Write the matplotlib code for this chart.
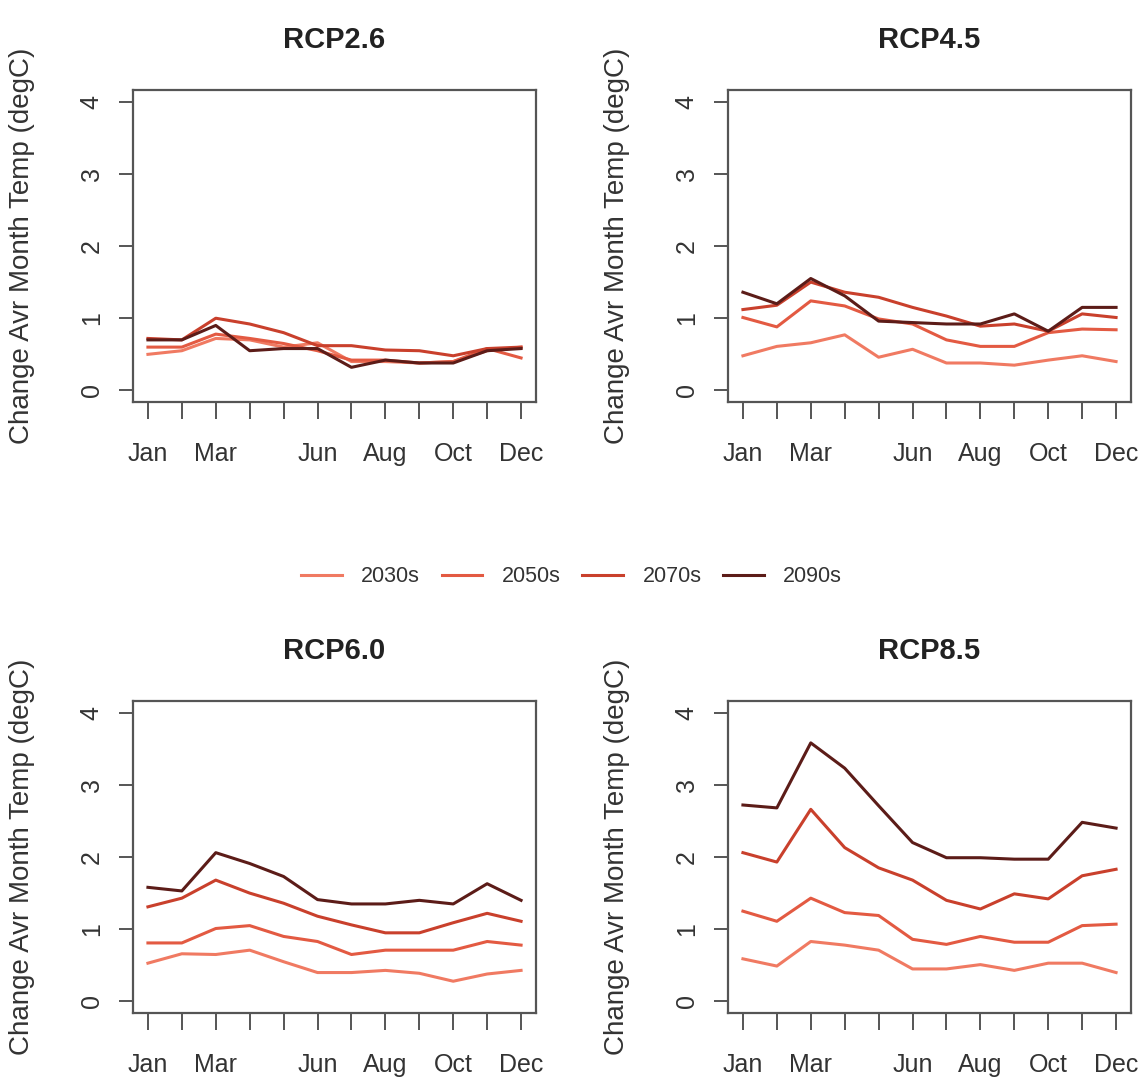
import numpy as np
import matplotlib
matplotlib.use("Agg")
import matplotlib.pyplot as plt

plt.rcParams['font.family'] = ['Liberation Sans', 'DejaVu Sans']

months = ['Jan', 'Feb', 'Mar', 'Apr', 'May', 'Jun',
          'Jul', 'Aug', 'Sep', 'Oct', 'Nov', 'Dec']
shown = ['Jan', 'Mar', 'Jun', 'Aug', 'Oct', 'Dec']
periods = ['2030s', '2050s', '2070s', '2090s']
colours = ['#f07a62', '#e35a42', '#c9402c', '#5c1c18']

# change in mean monthly temperature (degC), one list per period
rcp26_2030s = [0.50, 0.55, 0.72, 0.70, 0.60, 0.66, 0.40, 0.40, 0.38, 0.40, 0.55, 0.60]
rcp26_2050s = [0.60, 0.60, 0.78, 0.72, 0.65, 0.55, 0.42, 0.42, 0.38, 0.40, 0.58, 0.45]
rcp26_2070s = [0.72, 0.70, 1.00, 0.92, 0.80, 0.62, 0.62, 0.56, 0.55, 0.48, 0.58, 0.60]
rcp26_2090s = [0.70, 0.70, 0.90, 0.55, 0.58, 0.58, 0.32, 0.42, 0.38, 0.38, 0.55, 0.58]

rcp45_2030s = [0.48, 0.61, 0.66, 0.77, 0.46, 0.57, 0.38, 0.38, 0.35, 0.42, 0.48, 0.40]
rcp45_2050s = [1.01, 0.88, 1.24, 1.17, 0.99, 0.92, 0.70, 0.61, 0.61, 0.80, 0.85, 0.84]
rcp45_2070s = [1.12, 1.18, 1.50, 1.36, 1.29, 1.15, 1.03, 0.89, 0.92, 0.82, 1.06, 1.01]
rcp45_2090s = [1.36, 1.20, 1.55, 1.31, 0.96, 0.94, 0.92, 0.92, 1.06, 0.82, 1.15, 1.15]

rcp60_2030s = [0.53, 0.66, 0.65, 0.71, 0.55, 0.40, 0.40, 0.43, 0.39, 0.28, 0.38, 0.43]
rcp60_2050s = [0.81, 0.81, 1.01, 1.05, 0.90, 0.83, 0.65, 0.71, 0.71, 0.71, 0.83, 0.78]
rcp60_2070s = [1.31, 1.43, 1.68, 1.50, 1.36, 1.18, 1.06, 0.95, 0.95, 1.09, 1.22, 1.11]
rcp60_2090s = [1.58, 1.53, 2.06, 1.91, 1.73, 1.41, 1.35, 1.35, 1.40, 1.35, 1.63, 1.40]

rcp85_2030s = [0.59, 0.49, 0.83, 0.78, 0.71, 0.45, 0.45, 0.51, 0.43, 0.53, 0.53, 0.40]
rcp85_2050s = [1.25, 1.11, 1.43, 1.23, 1.19, 0.86, 0.79, 0.90, 0.82, 0.82, 1.05, 1.07]
rcp85_2070s = [2.06, 1.93, 2.66, 2.13, 1.85, 1.68, 1.40, 1.28, 1.49, 1.42, 1.74, 1.83]
rcp85_2090s = [2.72, 2.68, 3.58, 3.23, 2.71, 2.20, 1.99, 1.99, 1.97, 1.97, 2.48, 2.40]

panels = [
    ('RCP2.6', [rcp26_2030s, rcp26_2050s, rcp26_2070s, rcp26_2090s]),
    ('RCP4.5', [rcp45_2030s, rcp45_2050s, rcp45_2070s, rcp45_2090s]),
    ('RCP6.0', [rcp60_2030s, rcp60_2050s, rcp60_2070s, rcp60_2090s]),
    ('RCP8.5', [rcp85_2030s, rcp85_2050s, rcp85_2070s, rcp85_2090s]),
]

W, H = 1143, 1082
fig = plt.figure(figsize=(W / 100, H / 100), dpi=100)
txt = '#333333'
box = [(133, 90), (728, 90), (133, 701), (728, 701)]
bw, bh = 403, 312

x = np.arange(1, 13)
handles = []
for (title, series), (bx, by) in zip(panels, box):
    ax = fig.add_axes([bx / W, 1 - (by + bh) / H, bw / W, bh / H])
    for vals, col, lab in zip(series, colours, periods):
        h, = ax.plot(x, vals, color=col, lw=2.2, label=lab)
        if title == 'RCP2.6':
            handles.append(h)
    ax.set_xlim(1 - 0.44, 12 + 0.44)
    ax.set_ylim(-0.16, 4.16)
    ax.set_xticks(x)
    ax.set_xticklabels([m if m in shown else '' for m in months])
    ax.set_yticks(range(5))
    ax.tick_params(axis='x', length=12, width=1.4, pad=17, labelsize=18,
                   colors='#555555', labelcolor=txt)
    ax.tick_params(axis='y', length=10, width=1.4, pad=11, labelsize=18,
                   colors='#555555', labelcolor=txt, labelrotation=90)
    for t in ax.get_yticklabels():
        t.set_va('center')
    for sp in ax.spines.values():
        sp.set_color('#555555')
        sp.set_linewidth(1.6)
    ax.set_title(title, fontsize=21, fontweight='bold', color='#222222', pad=30)
    ax.set_ylabel('Change Avr Month Temp (degC)', fontsize=20, color=txt)
    ax.yaxis.set_label_coords(-0.243, 0.5)

fig.legend(handles=handles, labels=periods, loc='center', ncol=4,
           bbox_to_anchor=(0.5, 1 - 577 / H), frameon=False, fontsize=15.5,
           labelcolor=txt, handlelength=1.9, handletextpad=0.9, columnspacing=1.0)

fig.savefig('out.png', dpi=100, facecolor='white')
